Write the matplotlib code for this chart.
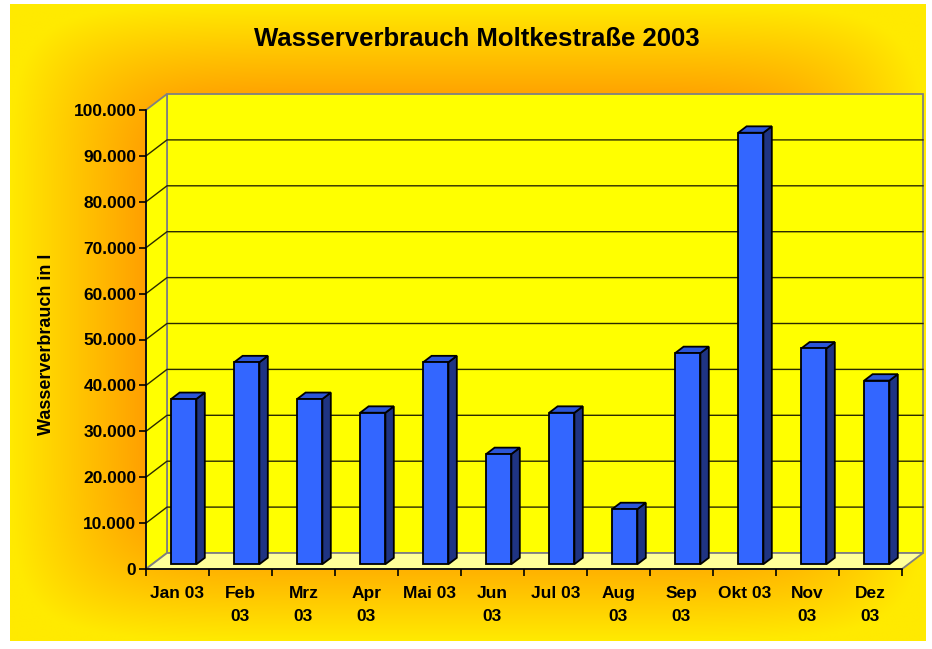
import numpy as np
import matplotlib
matplotlib.use("Agg")
import matplotlib.pyplot as plt
from matplotlib.patches import Polygon
from matplotlib.lines import Line2D
import matplotlib.transforms as mtransforms

# ---- data ----
months = ["Jan 03", "Feb\n03", "Mrz\n03", "Apr\n03", "Mai 03", "Jun\n03",
          "Jul 03", "Aug\n03", "Sep\n03", "Okt 03", "Nov\n03", "Dez\n03"]
consumption = [36000, 44000, 36000, 33000, 44000, 24000,
               33000, 12000, 46000, 94000, 47000, 40000]
y_ticks = [0, 10000, 20000, 30000, 40000, 50000, 60000, 70000, 80000, 90000, 100000]
y_tick_labels = ["0", "10.000", "20.000", "30.000", "40.000", "50.000",
                 "60.000", "70.000", "80.000", "90.000", "100.000"]
title = "Wasserverbrauch Moltkestraße 2003"
ylabel = "Wasserverbrauch in l"

plt.rcParams['font.family'] = ['Liberation Sans', 'DejaVu Sans']
plt.rcParams['font.weight'] = 'bold'

W, H = 932, 649
fig = plt.figure(figsize=(W / 100, H / 100), dpi=100)
fig.patch.set_facecolor('white')


def fx(px):
    return px / W


def fy(py):
    return 1 - py / H


# ---- background gradient (rectangular, from center) ----
bg = fig.add_axes([fx(10), fy(641), 916 / W, 637 / H])
bg.set_axis_off()
ny, nx = 400, 560
yy, xx = np.mgrid[-1:1:ny * 1j, -1:1:nx * 1j]
p = 8
t = (np.abs(xx) ** p + np.abs(yy) ** p) ** (1 / p)
f = np.clip((t - 0.70) / 0.30, 0, 1)
orange = np.array([255, 158, 0]) / 255
yellow = np.array([255, 234, 0]) / 255
img = orange + (yellow - orange) * f[..., None]
bg.imshow(img, aspect='auto', interpolation='bilinear', extent=(0, 1, 0, 1))
bg.set_xlim(0, 1)
bg.set_ylim(0, 1)

# ---- main axes = front plane ----
ax = fig.add_axes([fx(146), fy(569), (902 - 146) / W, (569 - 110) / H])
ax.set_xlim(0, len(months))
ax.set_ylim(0, 100000)
ax.patch.set_visible(False)
for s in ['top', 'right']:
    ax.spines[s].set_visible(False)
for s in ['left', 'bottom']:
    ax.spines[s].set_color('black')
    ax.spines[s].set_linewidth(1.2)
    ax.spines[s].set_zorder(5)

DX, DY = 21.0, 16.0
ident = mtransforms.IdentityTransform()
fig.canvas.draw()


def disp(x, y, d):
    q = ax.transData.transform((x, y))
    return (q[0] + d * DX, q[1] + d * DY)


n = len(months)
ymax = y_ticks[-1]
grey = '#808080'
# walls and floor
back = Polygon([disp(0, 0, 1), disp(n, 0, 1), disp(n, ymax, 1), disp(0, ymax, 1)],
               closed=True, facecolor='#FFFF00', edgecolor=grey, lw=1.3,
               transform=ident, clip_on=False, zorder=0.5)
side = Polygon([disp(0, 0, 0), disp(0, 0, 1), disp(0, ymax, 1), disp(0, ymax, 0)],
               closed=True, facecolor='#FFFF00', edgecolor=grey, lw=1.3,
               transform=ident, clip_on=False, zorder=0.5)
floor = Polygon([disp(0, 0, 0), disp(n, 0, 0), disp(n, 0, 1), disp(0, 0, 1)],
                closed=True, facecolor='#FFFF99', edgecolor=grey, lw=1.3,
                transform=ident, clip_on=False, zorder=0.55)
for patch in (back, side, floor):
    ax.add_artist(patch)

for v in y_ticks[1:-1]:
    pts = [disp(0, v, 0), disp(0, v, 1), disp(n, v, 1)]
    ax.add_artist(Line2D([q[0] for q in pts], [q[1] for q in pts], color='#2a2a00',
                         lw=1.0, transform=ident, clip_on=False, zorder=0.7))

# bars
d0, d1 = 0.30, 0.70
bw = 0.4
centers = np.arange(n) + 0.5
bars = ax.bar(centers, consumption, width=bw, color='#3366FF', edgecolor='black',
              linewidth=1.3, zorder=3)
off = mtransforms.ScaledTranslation(d0 * DX / 100, d0 * DY / 100, fig.dpi_scale_trans)
for b in bars:
    b.set_transform(ax.transData + off)
    b.set_clip_on(False)
for c, v in zip(centers, consumption):
    x0, x1 = c - bw / 2, c + bw / 2
    sidef = Polygon([disp(x1, 0, d0), disp(x1, 0, d1), disp(x1, v, d1), disp(x1, v, d0)],
                    closed=True, facecolor='#1F3483', edgecolor='black', lw=1.3,
                    transform=ident, clip_on=False, zorder=2.9)
    topf = Polygon([disp(x0, v, d0), disp(x1, v, d0), disp(x1, v, d1), disp(x0, v, d1)],
                   closed=True, facecolor='#2C56D8', edgecolor='black', lw=1.3,
                   transform=ident, clip_on=False, zorder=2.9)
    ax.add_artist(sidef)
    ax.add_artist(topf)

# ticks
ax.set_yticks(y_ticks, y_tick_labels)
ax.tick_params(axis='y', direction='out', length=5, width=1.2, pad=2,
               labelsize=12.5, colors='black')
ax.set_xticks(np.arange(n + 1))
ax.set_xticklabels([])
ax.set_xticks(centers, minor=True)
ax.set_xticklabels(months, minor=True, fontsize=12.5, fontweight='bold',
                   linespacing=1.7)
ax.tick_params(axis='x', which='major', direction='out', length=5, width=1.2)
ax.tick_params(axis='x', which='minor', length=0, pad=12)
for lbl in ax.get_yticklabels():
    lbl.set_fontweight('bold')

fig.text(fx(477), fy(39), title, ha='center', va='center', fontsize=18.5,
         fontweight='bold', color='black')
fig.text(fx(47), fy(344), ylabel, ha='center', va='center', rotation=90,
         fontsize=13, fontweight='bold', color='black')

fig.savefig('out.png', dpi=100)
